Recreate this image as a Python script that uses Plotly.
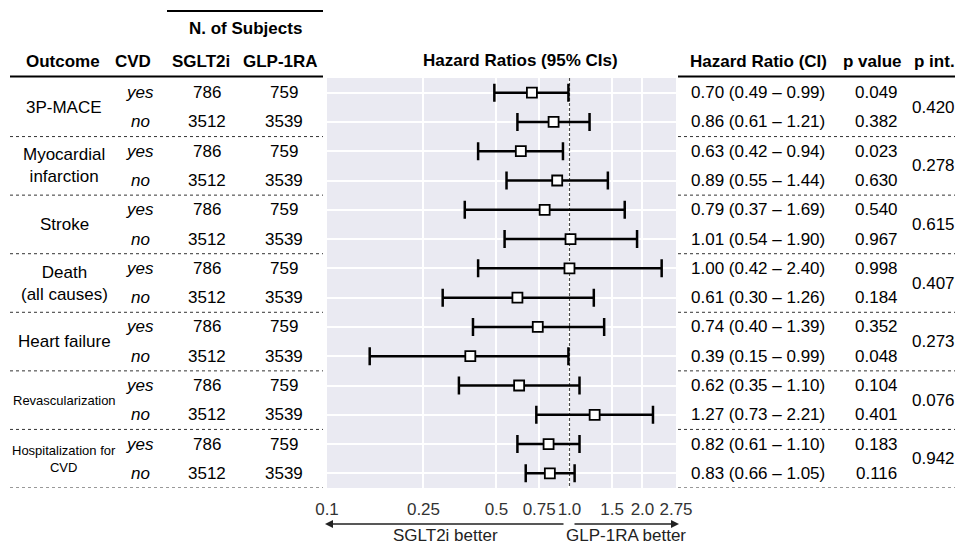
import math
import plotly.graph_objects as go

# ---------------- data ----------------
outcomes = ["3P-MACE", "Myocardial<br>infarction", "Stroke", "Death<br>(all causes)",
            "Heart failure", "Revascularization", "Hospitalization for<br>CVD"]
cvd = ["yes", "no", "yes", "no", "yes", "no", "yes", "no", "yes", "no", "yes", "no", "yes", "no"]
n_sglt2i = [786, 3512, 786, 3512, 786, 3512, 786, 3512, 786, 3512, 786, 3512, 786, 3512]
n_glp1ra = [759, 3539, 759, 3539, 759, 3539, 759, 3539, 759, 3539, 759, 3539, 759, 3539]
hr = [0.70, 0.86, 0.63, 0.89, 0.79, 1.01, 1.00, 0.61, 0.74, 0.39, 0.62, 1.27, 0.82, 0.83]
ci_lo = [0.49, 0.61, 0.42, 0.55, 0.37, 0.54, 0.42, 0.30, 0.40, 0.15, 0.35, 0.73, 0.61, 0.66]
ci_hi = [0.99, 1.21, 0.94, 1.44, 1.69, 1.90, 2.40, 1.26, 1.39, 0.99, 1.10, 2.21, 1.10, 1.05]
p_value = ["0.049", "0.382", "0.023", "0.630", "0.540", "0.967", "0.998",
           "0.184", "0.352", "0.048", "0.104", "0.401", "0.183", "0.116"]
p_int = ["0.420", "0.278", "0.615", "0.407", "0.273", "0.076", "0.942"]
x_ticks = [0.1, 0.25, 0.5, 0.75, 1.0, 1.5, 2.0, 2.75]
x_tick_labels = ["0.1", "0.25", "0.5", "0.75", "1.0", "1.5", "2.0", "2.75"]

# ---------------- layout helpers ----------------
W, H = 955, 547
FONT = "Liberation Sans, Arial, sans-serif"
def px(x):
    return x / W
def py(y):
    return 1 - y / H

rows = list(range(len(hr)))
outcome_sizes = [17, 17, 17, 17, 17, 13, 13]

fig = go.Figure()

# reference line at HR = 1
fig.add_trace(go.Scatter(
    x=[1.0, 1.0], y=[-0.5, len(hr) - 0.5], mode="lines",
    line=dict(color="#4a4a4a", width=1.2, dash="3px,2px"), hoverinfo="skip"))

# hazard ratios with CIs
fig.add_trace(go.Scatter(
    x=hr, y=rows, mode="markers",
    marker=dict(symbol="square", size=10, color="white",
                line=dict(color="black", width=1.8)),
    error_x=dict(type="data", symmetric=False,
                 array=[h - m for h, m in zip(ci_hi, hr)],
                 arrayminus=[m - l for m, l in zip(hr, ci_lo)],
                 color="black", thickness=2.5, width=9),
))

ann = []
def txt(x, y, s, size=17, xanchor="center", yref="y", bold=False, italic=False, color="black"):
    if bold:
        s = "<b>" + s + "</b>"
    if italic:
        s = "<i>" + s + "</i>"
    ann.append(dict(x=x, y=y, xref="paper", yref=yref, text=s, showarrow=False,
                    xanchor=xanchor, yanchor="middle",
                    font=dict(family=FONT, size=size, color=color)))

# headers
txt(px(63), py(62), "Outcome", yref="paper", bold=True)
txt(px(133), py(62), "CVD", yref="paper", bold=True)
txt(px(201), py(62), "SGLT2i", yref="paper", bold=True)
txt(px(280), py(62), "GLP-1RA", yref="paper", bold=True)
txt(px(245), py(29), "N. of Subjects", yref="paper", bold=True)
txt(px(520), py(61), "Hazard Ratios (95% CIs)", yref="paper", bold=True)
txt(px(758), py(62), "Hazard Ratio (CI)", yref="paper", bold=True)
txt(px(872), py(62), "p value", yref="paper", bold=True)
txt(px(912), py(62), "p int.", yref="paper", bold=True, xanchor="left")

# row contents
for i in rows:
    txt(px(140), i, cvd[i], italic=True)
    txt(px(207), i, str(n_sglt2i[i]))
    txt(px(284), i, str(n_glp1ra[i]))
    txt(px(758), i, f"{hr[i]:.2f} ({ci_lo[i]:.2f} \u2013 {ci_hi[i]:.2f})")
    txt(px(876), i, p_value[i])

for g, name in enumerate(outcomes):
    yc = 2 * g + 0.5
    txt(px(64), yc, name, size=outcome_sizes[g])
    txt(px(910), yc, p_int[g], xanchor="left")

# axis direction labels and arrows
txt(px(445), py(535), "SGLT2i better", yref="paper", color="#222")
txt(px(626), py(535), "GLP-1RA better", yref="paper", color="#222")
ann.append(dict(x=px(325), y=py(524), xref="paper", yref="paper", text="",
                showarrow=True, ax=240, ay=0, arrowhead=2, arrowsize=1,
                arrowwidth=1.6, arrowcolor="#222"))
ann.append(dict(x=px(679), y=py(524), xref="paper", yref="paper", text="",
                showarrow=True, ax=-106, ay=0, arrowhead=2, arrowsize=1,
                arrowwidth=1.6, arrowcolor="#222"))

# table rules
shapes = []
shapes.append(dict(type="line", xref="paper", yref="paper", x0=px(167), x1=px(323),
                   y0=py(11), y1=py(11), line=dict(color="black", width=2)))
for xa, xb in [(10, 323), (678, 955)]:
    shapes.append(dict(type="line", xref="paper", yref="paper", x0=px(xa), x1=px(xb),
                       y0=py(76.5), y1=py(76.5), line=dict(color="black", width=2)))
    for g in range(len(outcomes)):
        yb = 2 * g + 1.5
        shapes.append(dict(type="line", xref="paper", yref="y", x0=px(xa), x1=px(xb),
                           y0=yb, y1=yb, line=dict(color="#333", width=1, dash="dot")))

fig.update_layout(
    width=W, height=H, autosize=False,
    margin=dict(l=0, r=0, t=0, b=0, pad=0, autoexpand=False),
    paper_bgcolor="white", plot_bgcolor="#EAEAF2", showlegend=False,
    annotations=ann, shapes=shapes,
    font=dict(family=FONT, size=17, color="black"),
    xaxis=dict(type="log", range=[math.log10(x_ticks[0]), math.log10(x_ticks[-1])],
               domain=[px(327), px(676)], tickvals=x_ticks, ticktext=x_tick_labels,
               showgrid=True, gridcolor="white", gridwidth=1.5, ticks="",
               zeroline=False, showline=False, tickfont=dict(size=17, color="#333"),
               tickangle=0, ticklabelstandoff=9, automargin=False),
    yaxis=dict(range=[len(hr) - 0.5, -0.5], domain=[py(488), py(78)],
               tickvals=rows, showticklabels=False, showgrid=True, gridcolor="white",
               gridwidth=1.5, zeroline=False, showline=False, ticks="", automargin=False),
)

fig.write_html("out.html", config={"responsive": False, "displayModeBar": False},
               post_script="document.body.style.margin='0px';"
                           "document.body.style.overflow='hidden';")
